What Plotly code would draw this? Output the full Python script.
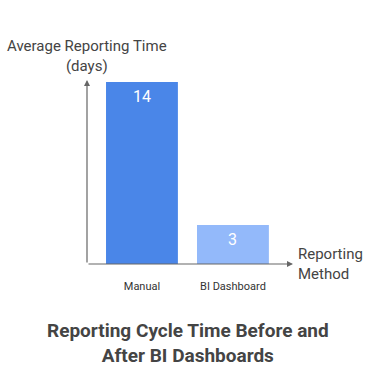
import plotly.graph_objects as go

categories = ["Manual", "BI Dashboard"]
values = [14, 3]
bar_colors = ["#4A86E8", "#93B9FA"]

W, H = 375, 366
L, R, T, B = 87, 375 - 293, 80, 366 - 264
PW = W - L - R

fig = go.Figure()
fig.add_trace(go.Bar(
    x=[0, 1], y=values,
    marker=dict(color=bar_colors, line=dict(width=0)),
    width=0.79,
    hoverinfo="skip",
))

for i, v in enumerate(values):
    fig.add_annotation(x=i, y=v, yshift=-15, text=str(v), showarrow=False,
                       xanchor="center", yanchor="middle",
                       font=dict(size=16, color="white"))

fig.update_layout(
    width=W, height=H,
    margin=dict(l=L, r=R, t=T, b=B, autoexpand=False),
    paper_bgcolor="white", plot_bgcolor="white",
    showlegend=False,
    font=dict(family="Roboto", color="#444"),
    xaxis=dict(
        range=[-0.604, 1.66],
        tickvals=[0, 1], ticktext=categories,
        showgrid=False, zeroline=False, showline=False,
        ticks="", ticklen=0, automargin=False,
        ticklabelstandoff=14,
        tickfont=dict(size=11, color="#333"),
    ),
    yaxis=dict(
        range=[0, 14.15],
        showgrid=False, zeroline=False, showline=False,
        showticklabels=False, ticks="", automargin=False,
    ),
)

# axis arrows
fig.add_annotation(xref="paper", yref="paper", x=0, y=1, ax=0, ay=184,
                   axref="pixel", ayref="pixel", text="", showarrow=True,
                   arrowhead=2, arrowsize=1, arrowwidth=1.2, arrowcolor="#666")
fig.add_annotation(xref="paper", yref="paper", x=1, y=0, ax=-206, ay=0,
                   axref="pixel", ayref="pixel", text="", showarrow=True,
                   arrowhead=2, arrowsize=1, arrowwidth=1.2, arrowcolor="#666")

# axis titles
fig.add_annotation(xref="paper", yref="paper", x=0, y=1.0, yshift=3,
                   text="Average Reporting Time<br>(days)", showarrow=False,
                   xanchor="center", yanchor="bottom", align="center",
                   font=dict(size=15, color="#444"))
fig.add_annotation(xref="paper", yref="paper", x=1.0, y=0, xshift=3,
                   text="Reporting<br>Method", showarrow=False,
                   xanchor="left", yanchor="middle", align="left",
                   font=dict(size=15, color="#444"))

# title
fig.add_annotation(xref="paper", yref="paper", x=(187.5 - L) / PW, y=0, yshift=-53,
                   text="<b>Reporting Cycle Time Before and<br>After BI Dashboards</b>",
                   showarrow=False, xanchor="center", yanchor="top", align="center",
                   font=dict(size=19, color="#444"))

fig.write_html("out.html", config={"displayModeBar": False},
               post_script="document.body.style.margin='0';")
